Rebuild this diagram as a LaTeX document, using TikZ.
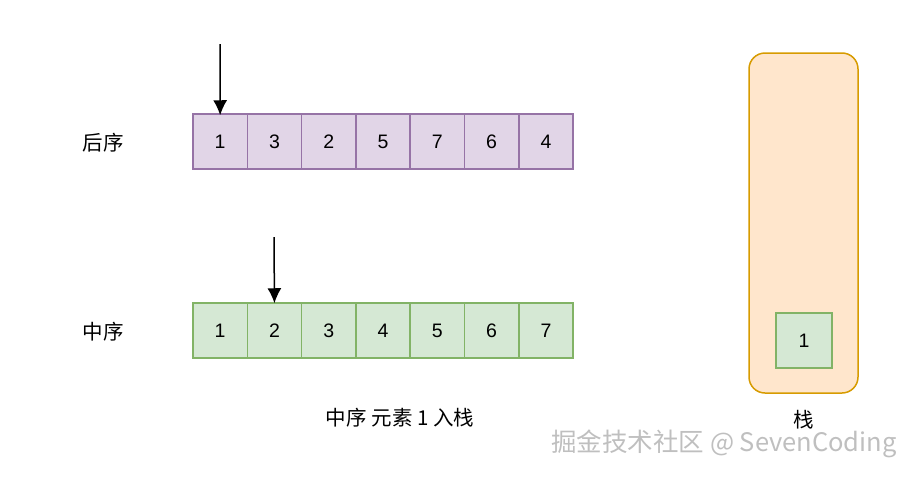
\documentclass[tikz,border=0pt]{standalone}
\usepackage{fontspec}
\usepackage{tikz}
\usetikzlibrary{arrows.meta}
\setmainfont{Liberation Sans}
\newfontfamily\cjk{Noto Sans CJK SC}
\definecolor{postfill}{HTML}{E1D5E7}
\definecolor{postline}{HTML}{9673A6}
\definecolor{infill}{HTML}{D5E8D4}
\definecolor{inline}{HTML}{82B366}
\definecolor{stackfill}{HTML}{FFE6CC}
\definecolor{stackline}{HTML}{D79B00}

\begin{document}
\begin{tikzpicture}[x=1pt,y=-1pt,
  cell/.style={draw, line width=1.5pt, minimum width=54.3pt, minimum height=55pt,
    inner sep=0pt, font=\fontsize{19.5}{22}\selectfont},
  postcell/.style={cell, fill=postfill, draw=postline},
  incell/.style={cell, fill=infill, draw=inline},
  pointer/.style={line width=1.5pt, -{Latex[length=15pt,width=14pt]}},
  label/.style={font=\fontsize{20.5}{24}\selectfont\cjk}]
	  \useasboundingbox (0,0) rectangle (912,477);
	  % Arrays
	  \foreach \v [count=\i] in {1,3,2,5,7,6,4}
	    \node [postcell] (p\i) at (193+54.3*\i-27.15, 141.5) {\v};
	  \foreach \v [count=\i] in {1,2,3,4,5,6,7}
	    \node [incell] (m\i) at (193+54.3*\i-27.15, 330.5) {\v};
	  \node [label] (post) at (103,143) {后序};
	  \node [label] (in) at (103,332) {中序};
	  % Pointers
	  \coordinate (ptop) at (220,44);
	  \coordinate (pbot) at (274,237);
	  \draw [pointer] (ptop) -- ([yshift=-2pt]p1.north);
	  \draw [pointer] (pbot) -- ([yshift=-1pt]m2.north);
	  % Stack
	  \node [draw=stackline, fill=stackfill, line width=1.5pt, rounded corners=16pt,
	    minimum width=109pt, minimum height=340pt] (stack) at (803.5,223) {};
	  \node [incell, minimum width=56pt, minimum height=55pt] (s1) at (804,340.5) {1};
	  \node [label] (stackname) at (804,420) {栈};
	  \node [label] (caption) at (400,418) {中序 元素 1 入栈};
	  \node [font=\fontsize{25.5}{28}\selectfont\cjk, text=gray!50] (mark) at (724,444)
	    {掘金技术社区 @ SevenCoding};
	 \end{tikzpicture}
\end{document}
